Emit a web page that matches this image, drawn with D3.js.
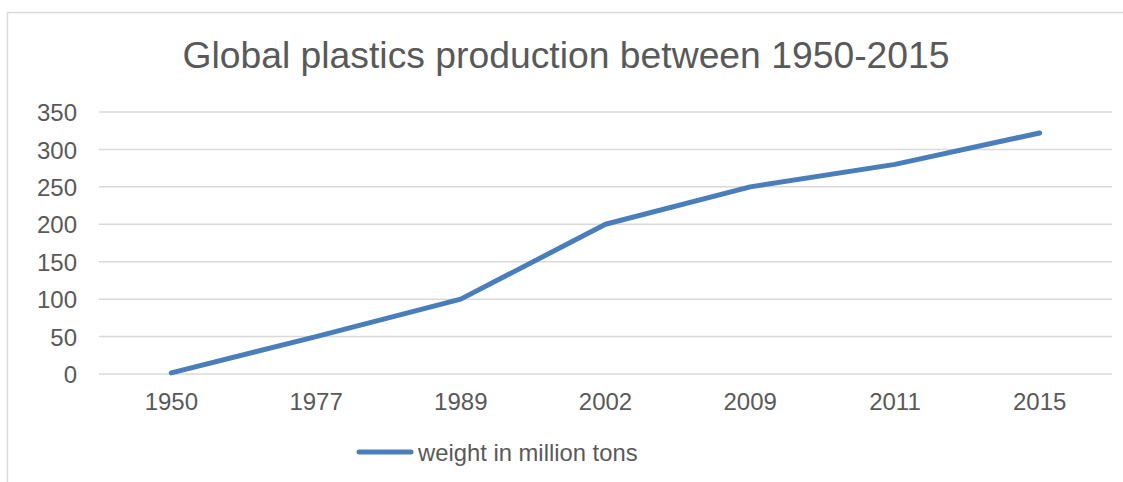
<!DOCTYPE html>
<html>
<head>
<meta charset="utf-8">
<script src="https://cdn.jsdelivr.net/npm/d3@7"></script>
<style>
  body { margin: 0; background: #fff; }
  svg text { font-family: "Liberation Sans", Arial, sans-serif; fill: #595959; }
</style>
</head>
<body>
<svg id="chart"></svg>
<script>
var years = ["1950", "1977", "1989", "2002", "2009", "2011", "2015"];
var weights = [1.5, 50, 100, 200, 250, 280, 322];
var yTicks = [0, 50, 100, 150, 200, 250, 300, 350];
var seriesName = "weight in million tons";
var title = "Global plastics production between 1950-2015";

var width = 1123, height = 482;
var margin = {top: 112, right: 11, bottom: 108, left: 99};
var plotW = width - margin.left - margin.right;
var plotH = height - margin.top - margin.bottom;

var svg = d3.select("#chart")
  .attr("width", width)
  .attr("height", height);

// chart frame (right and bottom edges fall outside the picture)
svg.append("rect")
  .attr("x", 7.5).attr("y", 12.5)
  .attr("width", 1130).attr("height", 500)
  .attr("fill", "none")
  .attr("stroke", "#d9d9d9")
  .attr("stroke-width", 1.5);

svg.append("text")
  .attr("x", 566).attr("y", 68)
  .attr("text-anchor", "middle")
  .attr("font-size", "37.3px")
  .text(title);

var g = svg.append("g")
  .attr("transform", "translate(" + margin.left + "," + margin.top + ")");

var xScale = d3.scaleBand().domain(years).range([0, plotW]);
var yScale = d3.scaleLinear().domain([0, 350]).range([plotH, 0]);

// gridlines
g.append("g")
  .selectAll("line")
  .data(yTicks)
  .enter().append("line")
  .attr("x1", 0).attr("x2", plotW)
  .attr("y1", function(d){ return yScale(d); })
  .attr("y2", function(d){ return yScale(d); })
  .attr("stroke", "#d9d9d9")
  .attr("stroke-width", 1.5);

var yAxis = g.append("g")
  .call(d3.axisLeft(yScale).tickValues(yTicks).tickSize(0).tickPadding(22));
yAxis.select(".domain").remove();
yAxis.selectAll("text").attr("font-size", "24px").attr("dy", "0.36em")
  .style("font-family", "Liberation Sans, Arial, sans-serif").attr("fill", "#595959");

var xAxis = g.append("g")
  .attr("transform", "translate(0," + plotH + ")")
  .call(d3.axisBottom(xScale).tickSize(0).tickPadding(19));
xAxis.select(".domain").remove();
xAxis.selectAll("text").attr("font-size", "24px")
  .style("font-family", "Liberation Sans, Arial, sans-serif").attr("fill", "#595959");

var line = d3.line()
  .x(function(d, i){ return xScale(years[i]) + xScale.bandwidth() / 2; })
  .y(function(d){ return yScale(d); });

g.append("path")
  .datum(weights)
  .attr("d", line)
  .attr("fill", "none")
  .attr("stroke", "#4a7ebb")
  .attr("stroke-width", 5)
  .attr("stroke-linecap", "round")
  .attr("stroke-linejoin", "round");

// legend
var legend = svg.append("g").attr("transform", "translate(0,452)");
legend.append("line")
  .attr("x1", 359).attr("x2", 411)
  .attr("y1", 0).attr("y2", 0)
  .attr("stroke", "#4a7ebb")
  .attr("stroke-width", 5)
  .attr("stroke-linecap", "round");
legend.append("text")
  .attr("x", 418).attr("y", 0).attr("dy", "0.36em")
  .attr("font-size", "23.8px")
  .text(seriesName);
</script>
</body>
</html>
